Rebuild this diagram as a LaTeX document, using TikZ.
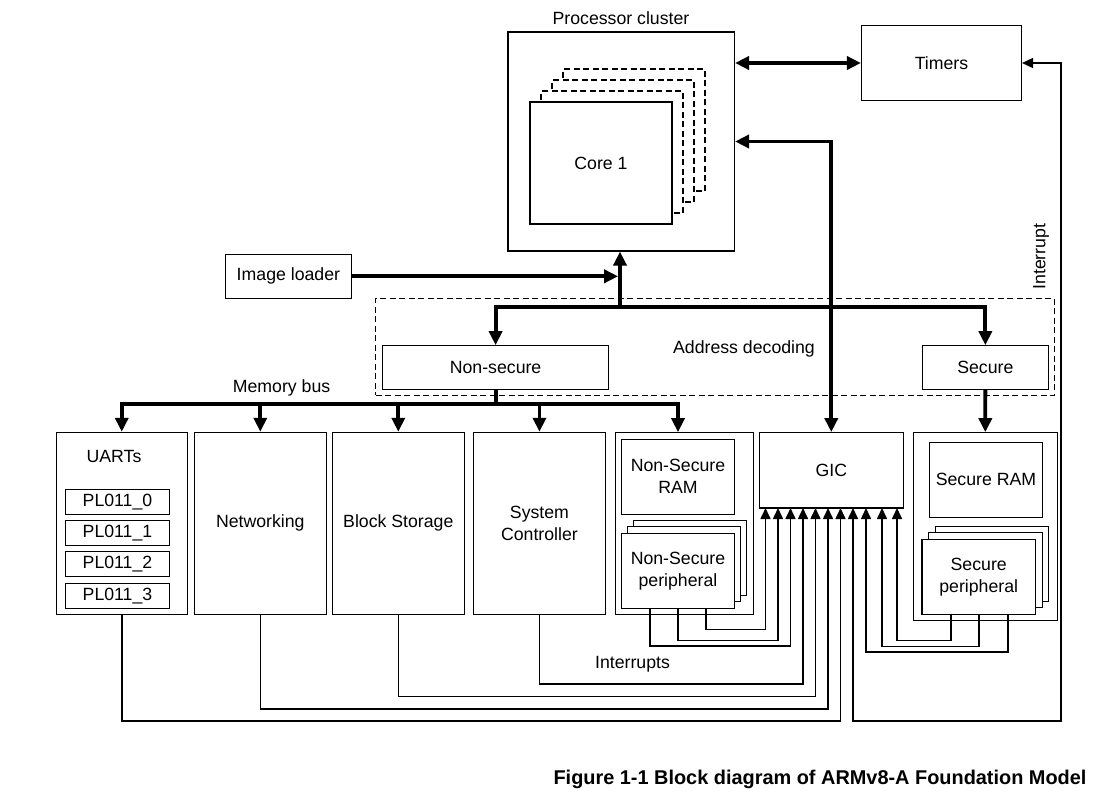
\documentclass[tikz,border=0pt]{standalone}
\usepackage{fontspec}
\setmainfont{Liberation Sans}
\usetikzlibrary{arrows.meta}

\begin{document}
\begin{tikzpicture}[x=1pt,y=-1pt,font=\fontsize{17.7}{22}\selectfont,
		box/.style={draw,fill=white,line width=1.1pt,inner sep=0pt,align=center},
		dbox/.style={box,dash pattern=on 6pt off 3.5pt},
		bus/.style={line width=3.8pt,>={Triangle[length=14pt,width=13pt]}},
		irq/.style={line width=1.6pt,>={Triangle[length=11pt,width=10pt]}}]
		\path[use as bounding box,fill=white] (0,0) rectangle (1104,798);
		\node[box,minimum width=226.5pt,minimum height=219pt] (pc) at (621.25,141.5) {};
		\node (pclbl) at (621,18) {Processor cluster};
		\foreach \k in {3,2,1}
			\node[dbox,minimum width=142pt,minimum height=122pt] (cs\k) at ({601+11*\k},{163-11*\k}) {};
		\node[box,minimum width=142pt,minimum height=122pt] (core) at (601,163) {Core 1};
		\node[box,minimum width=160pt,minimum height=74.6pt] (tim) at (941.5,63) {Timers};
		\node[box,minimum width=126pt,minimum height=44pt] (img) at (288.4,276.3) {Image loader};
		\node[dbox,fill=none,minimum width=678.7pt,minimum height=97pt] (addr) at (714.95,346.8) {};
		\node (addrlbl) at (744,349) {Address decoding};
		\node[box,minimum width=226pt,minimum height=43.6pt] (ns) at (495.6,367.5) {Non-secure};
		\node[box,minimum width=125.7pt,minimum height=43.6pt] (sec) at (985.35,367.5) {Secure};
		\node (mblbl) at (281.6,388) {Memory bus};
		\node[box,minimum width=131pt,minimum height=182pt] (uart) at (121.75,523.3) {};
		\node (uartlbl) at (114,456.7) {UARTs};
		\foreach \i in {0,...,3}
			\node[box,minimum width=104pt,minimum height=25pt] (pl\i) at (117.5,{501.8+31.3*\i}) {PL011\_\i};
		\node[box,minimum width=132pt,minimum height=182pt] (net) at (260.3,523.3) {Networking};
		\node[box,minimum width=132pt,minimum height=182pt] (blk) at (398.3,523.3) {Block Storage};
		\node[box,minimum width=131.7pt,minimum height=182pt] (sys) at (539.45,523.3) {System\\Controller};
		\node[box,minimum width=138pt,minimum height=181.6pt] (nsg) at (684.3,523.5) {};
		\node[box,minimum width=113.4pt,minimum height=75pt] (nsram) at (678,476.8) {Non-Secure\\RAM};
		\foreach \k in {2,1}
			\node[box,minimum width=113.4pt,minimum height=75pt] (nps\k) at ({678+6*\k},{570.8-6.5*\k}) {};
		\node[box,minimum width=113.4pt,minimum height=75pt] (nsp) at (678,570.8) {Non-Secure\\peripheral};
		\node[box,minimum width=144pt,minimum height=75.3pt] (gic) at (831.3,470.3) {GIC};
		\node[box,minimum width=144pt,minimum height=187.6pt] (sg) at (985.3,526.5) {};
		\node[box,minimum width=113.4pt,minimum height=75pt] (sram) at (986,479.8) {Secure RAM};
		\foreach \k in {2,1}
			\node[box,minimum width=113.4pt,minimum height=75pt] (sps\k) at ({978.7+6.7*\k},{576.8-6.5*\k}) {};
		\node[box,minimum width=113.4pt,minimum height=75pt] (sp) at (978.7,576.8) {Secure\\peripheral};
		\node[rotate=90] (irqlbl) at (1041,256.7) {Interrupt};
		\node (irqslbl) at (632.5,664.3) {Interrupts};
		\node[anchor=east,font=\bfseries\fontsize{19.9}{24}\selectfont] (cap) at (1090,779) {Figure 1-1 Block diagram of ARMv8-A Foundation Model};
		\coordinate (jn) at (620,306.7);
		\coordinate (mb) at (495.6,404.3);
		\coordinate (tc) at (1061,720.7);
		\foreach \i/\x in {1/765.5,2/778,3/790.5,4/803,5/815.5,6/828,7/840.5,8/853,9/866,10/882,11/897}
			\coordinate (g\i) at (\x,508);
		\draw[bus,<->] (pc.east |- tim.west) -- (tim.west);
		\draw[bus,<->] (pc.east) -| (gic.north);
		\draw[bus,->] (jn) -- (jn |- pc.south);
		\draw[bus,<->] (ns.north) |- (jn) -| (sec.north);
		\draw[bus,->] (img.east) -- ([xshift=-1.9pt]img.east -| jn);
		\draw[bus] (ns.south) -- (mb);
		\foreach \t in {uart,net,blk,sys}
			\draw[bus,->] (mb) -| (\t.north);
		\draw[bus,->] (mb) -| (nsram.north |- nsg.north);
		\draw[bus,->] (sec.south) -- (sg.north);
		\draw[irq,->] ([xshift=28pt]nsp.south) -- ++(0,20.7) -| (g1);
		\draw[irq,->] (nsp.south) -- ++(0,31.7) -| (g2);
		\draw[irq,->] ([xshift=-28pt]nsp.south) -- ++(0,37.4) -| (g3);
		\draw[irq,->] (sys.south) -- ++(0,69) -| (g4);
		\draw[irq,->] (blk.south) -- ++(0,81.7) -| (g5);
		\draw[irq,->] (net.south) -- ++(0,94) -| (g6);
		\draw[irq,->] (uart.south) -- ++(0,106.4) -| (g7);
		\draw[irq,<->] (tim.east) -| (tc) -| (g8);
		\draw[irq,->] ([xshift=29pt]sp.south) -- ++(0,37.4) -| (g9);
		\draw[irq,->] (sp.south) -- ++(0,31.7) -| (g10);
		\draw[irq,->] ([xshift=-28pt]sp.south) -- ++(0,25.7) -| (g11);
	\end{tikzpicture}
\end{document}
